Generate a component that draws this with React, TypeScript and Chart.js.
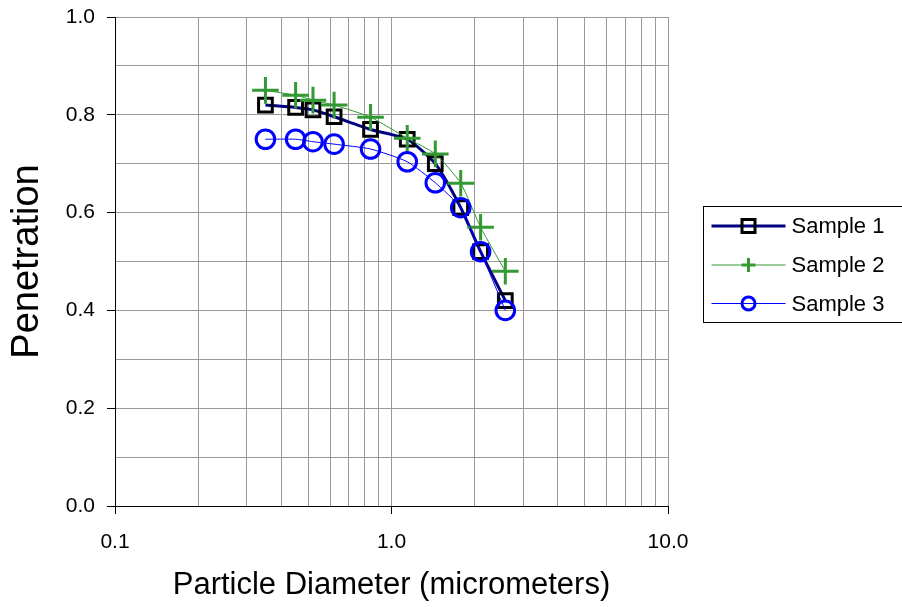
import { useEffect, useRef } from 'react';
import { Chart, registerables } from 'chart.js';

Chart.register(...registerables);

// ---- data ----
const DIAMETERS = [0.35, 0.45, 0.52, 0.62, 0.84, 1.14, 1.44, 1.78, 2.1, 2.58];
const SAMPLE_1 = [0.82, 0.815, 0.81, 0.796, 0.77, 0.75, 0.70, 0.61, 0.52, 0.42];
const SAMPLE_2 = [0.85, 0.84, 0.83, 0.82, 0.795, 0.752, 0.72, 0.66, 0.57, 0.48];
const SAMPLE_3 = [0.75, 0.75, 0.745, 0.74, 0.73, 0.704, 0.661, 0.61, 0.52, 0.40];
const SERIES_NAMES = ['Sample 1', 'Sample 2', 'Sample 3'];
const X_TICKS = [0.1, 0.2, 0.3, 0.4, 0.5, 0.6, 0.7, 0.8, 0.9, 1, 2, 3, 4, 5, 6, 7, 8, 9, 10];
const X_LABELED = [0.1, 1, 10];
const Y_TICK_STEP = 0.1;
const Y_LABEL_EVERY = 2;
const X_TITLE = 'Particle Diameter (micrometers)';
const Y_TITLE = 'Penetration';

const FONT = '"Liberation Sans", Arial, Helvetica, sans-serif';
const NAVY = '#000080';
const GREEN = '#339933';
const BLUE = '#0000FF';
const GRID = '#999999';

const toPoints = (ys: number[]) => DIAMETERS.map((x, i) => ({ x, y: ys[i] }));

const isMajorY = (v: number) => Math.round(v / Y_TICK_STEP) % Y_LABEL_EVERY === 0;
const isMajorX = (v: number) => X_LABELED.some((m) => Math.abs(m - v) < 1e-9);

const legendPlugin = {
  id: 'excelLegend',
  afterDraw(chart: any) {
    const ctx = chart.ctx as CanvasRenderingContext2D;
    const area = chart.chartArea;
    const boxLeft = area.right + 35.5;
    const boxTop = 206.5;
    const boxH = 116;
    const rowY = [226, 265, 303.5];
    const lineX0 = boxLeft + 8;
    const lineX1 = boxLeft + 82;
    const mx = boxLeft + 45;
    const textX = boxLeft + 88;
    ctx.save();
    ctx.strokeStyle = '#000';
    ctx.lineWidth = 1;
    ctx.strokeRect(boxLeft, boxTop, 240, boxH);

    const styles = [
      { color: NAVY, w: 3, marker: 'rect', mcolor: '#000' },
      { color: GREEN, w: 1, marker: 'cross', mcolor: GREEN },
      { color: BLUE, w: 1, marker: 'circle', mcolor: BLUE },
    ];
    styles.forEach((s, i) => {
      const y = rowY[i];
      ctx.strokeStyle = s.color;
      ctx.lineWidth = s.w;
      ctx.beginPath();
      ctx.moveTo(lineX0, y);
      ctx.lineTo(lineX1, y);
      ctx.stroke();
      ctx.strokeStyle = s.mcolor;
      ctx.lineWidth = 3;
      ctx.beginPath();
      if (s.marker === 'rect') {
        ctx.rect(mx - 6.5, y - 6.5, 13, 13);
      } else if (s.marker === 'cross') {
        ctx.moveTo(mx - 7, y);
        ctx.lineTo(mx + 7, y);
        ctx.moveTo(mx, y - 7);
        ctx.lineTo(mx, y + 7);
      } else {
        ctx.arc(mx, y, 6.5, 0, Math.PI * 2);
      }
      ctx.stroke();
      ctx.fillStyle = '#000';
      ctx.font = `22px ${FONT}`;
      ctx.textAlign = 'left';
      ctx.textBaseline = 'middle';
      ctx.fillText(SERIES_NAMES[i], textX, y + 1);
    });
    ctx.restore();
  },
};

export default function App() {
  const ref = useRef<HTMLCanvasElement | null>(null);

  useEffect(() => {
    if (!ref.current) return;
    const chart = new Chart(ref.current, {
      type: 'scatter',
      data: {
        datasets: [
          {
            label: SERIES_NAMES[0],
            data: toPoints(SAMPLE_1),
            showLine: true,
            borderColor: NAVY,
            borderWidth: 3,
            tension: 0.2,
            pointStyle: 'rect',
            pointRadius: 9.7,
            pointHoverRadius: 9.7,
            pointBorderWidth: 3,
            pointBorderColor: '#000',
            pointBackgroundColor: 'rgba(0,0,0,0)',
            order: 3,
          },
          {
            label: SERIES_NAMES[1],
            data: toPoints(SAMPLE_2),
            showLine: true,
            borderColor: GREEN,
            borderWidth: 1,
            tension: 0.2,
            pointStyle: 'cross',
            pointRadius: 13.3,
            pointHoverRadius: 13.3,
            pointBorderWidth: 3,
            pointBorderColor: GREEN,
            pointBackgroundColor: GREEN,
            order: 2,
          },
          {
            label: SERIES_NAMES[2],
            data: toPoints(SAMPLE_3),
            showLine: true,
            borderColor: BLUE,
            borderWidth: 1,
            tension: 0.2,
            pointStyle: 'circle',
            pointRadius: 9.3,
            pointHoverRadius: 9.3,
            pointBorderWidth: 3,
            pointBorderColor: BLUE,
            pointBackgroundColor: 'rgba(0,0,0,0)',
            order: 1,
          },
        ],
      },
      options: {
        responsive: false,
        animation: false,
        events: [],
        layout: { padding: { left: 0, top: 17, right: 234, bottom: 0 } },
        plugins: {
          legend: { display: false },
          tooltip: { enabled: false },
        },
        scales: {
          x: {
            type: 'logarithmic',
            min: 0.1,
            max: 10,
            afterBuildTicks: (scale: any) => {
              scale.ticks = X_TICKS.map((v) => ({ value: v, major: isMajorX(v) }));
            },
            afterFit: (scale: any) => {
              scale.height = 101;
              scale.paddingLeft = 0;
              scale.paddingRight = 0;
            },
            ticks: {
              autoSkip: false,
              maxRotation: 0,
              minRotation: 0,
              padding: 16,
              color: '#000',
              font: { family: FONT, size: 21, lineHeight: 1.2 },
              callback: (v: any) => (isMajorX(Number(v)) ? Number(v).toFixed(1) : ''),
            },
            grid: {
              color: GRID,
              lineWidth: 1,
              tickLength: 8,
              tickColor: (ctx: any) => (ctx.tick && isMajorX(ctx.tick.value) ? '#000' : 'rgba(0,0,0,0)'),
            },
            border: { color: '#000', width: 1 },
            title: {
              display: true,
              text: X_TITLE,
              color: '#000',
              font: { family: FONT, size: 31, lineHeight: 1.2 },
              padding: { top: 0, bottom: 3 },
            },
          },
          y: {
            type: 'linear',
            min: 0,
            max: 1,
            afterFit: (scale: any) => {
              scale.width = 115;
              scale.paddingTop = 0;
              scale.paddingBottom = 0;
            },
            ticks: {
              stepSize: Y_TICK_STEP,
              padding: 12,
              color: '#000',
              font: { family: FONT, size: 21, lineHeight: 1.2 },
              callback: (v: any) => (isMajorY(Number(v)) ? Number(v).toFixed(1) : ''),
            },
            grid: {
              color: GRID,
              lineWidth: 1,
              tickLength: 8,
              tickColor: (ctx: any) => (ctx.tick && isMajorY(ctx.tick.value) ? '#000' : 'rgba(0,0,0,0)'),
            },
            border: { color: '#000', width: 1 },
            title: {
              display: true,
              text: Y_TITLE,
              color: '#000',
              font: { family: FONT, size: 38, lineHeight: 1.2 },
              padding: { top: 4.5, bottom: 0 },
            },
          },
        },
      },
      plugins: [legendPlugin],
    });
    return () => chart.destroy();
  }, []);

  return (
    <div style={{ position: 'fixed', left: 0, top: 0, width: 902, height: 607, background: '#fff' }}>
      <canvas ref={ref} width={902} height={607} style={{ display: 'block', width: 902, height: 607 }} />
    </div>
  );
}
